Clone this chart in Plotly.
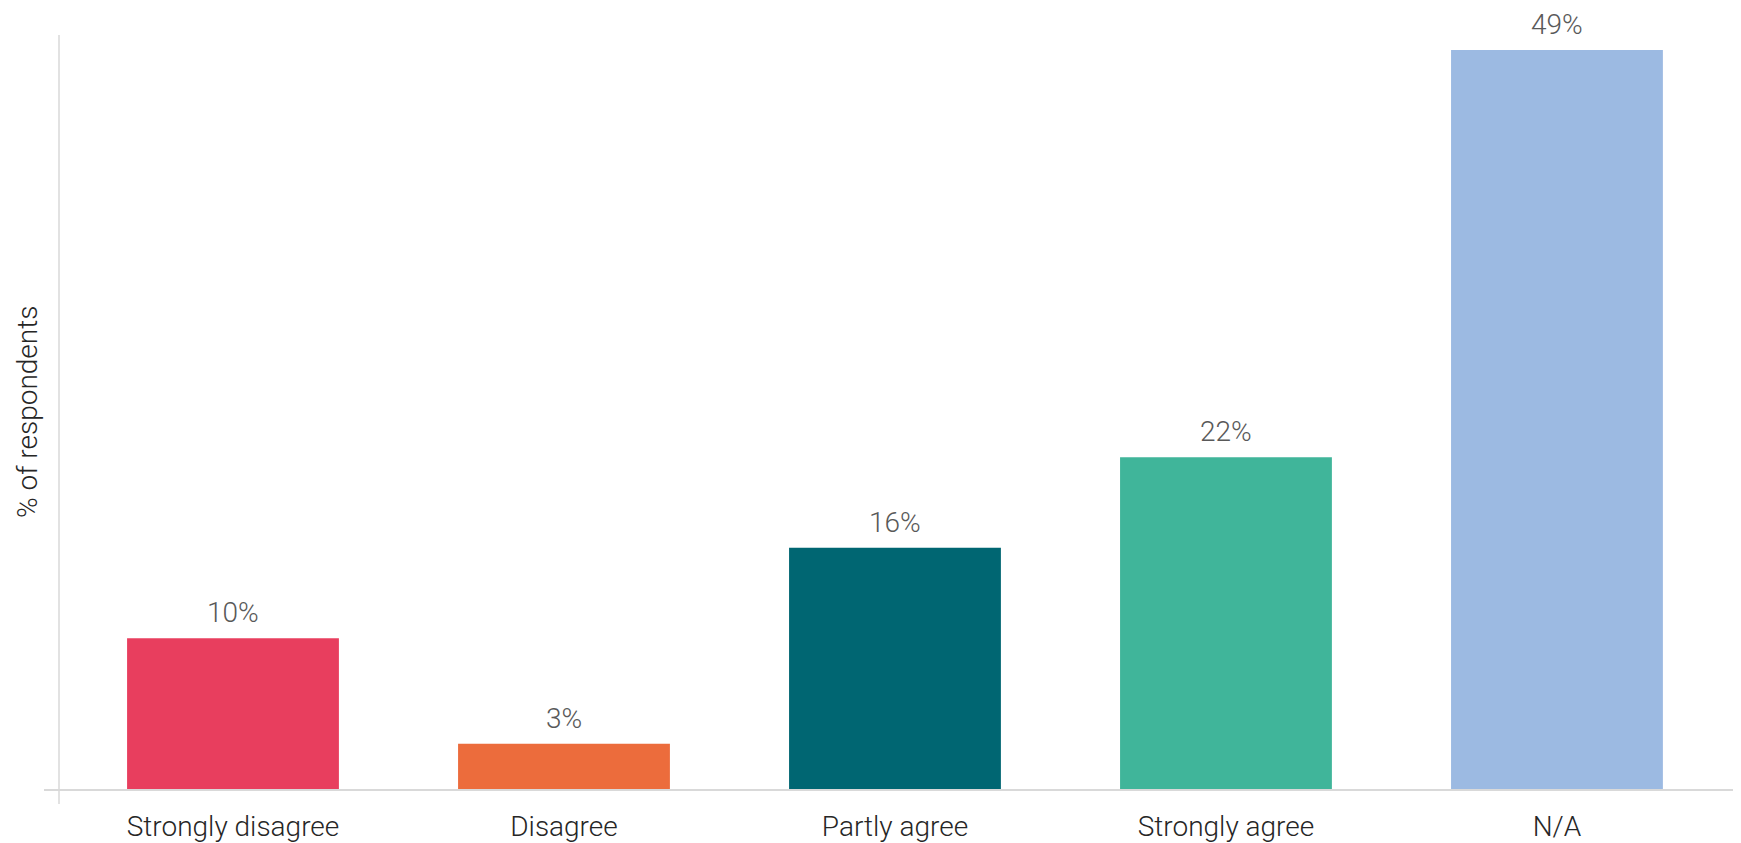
import plotly.graph_objects as go

categories = ["Strongly disagree", "Disagree", "Partly agree", "Strongly agree", "N/A"]
values = [10, 3, 16, 22, 49]
labels = ["10%", "3%", "16%", "22%", "49%"]
colors = ["#E83E5E", "#EC6C3C", "#006672", "#40B59A", "#9CBAE2"]

FONT = "Roboto"
# the page body has an 8px margin, so the figure is offset by 8px
W, H = 1733, 835
L, R, T, B = 36, 0, 27, 52
PW, PH = W - L - R, H - T - B

fig = go.Figure(go.Bar(
    x=categories,
    y=values,
    marker=dict(color=colors, line=dict(width=0)),
    width=0.64,
    hoverinfo="x+y",
))

# data labels above each bar
for cat, val, lab in zip(categories, values, labels):
    fig.add_annotation(
        x=cat, y=val, text=lab, showarrow=False,
        yanchor="bottom", yshift=8, borderpad=0,
        font=dict(family=FONT, size=28, color="#595959", weight=300),
    )

# y axis line (Excel-style, crossing below the x axis)
fig.add_shape(
    type="line", xref="paper", yref="paper",
    x0=15 / PW, x1=15 / PW, y0=-15 / PH, y1=1,
    line=dict(color="#d9d9d9", width=1.5),
)

fig.add_annotation(
    xref="paper", yref="paper", x=-17 / PW, y=0.5,
    text="% of respondents", textangle=-90, showarrow=False,
    xanchor="center", yanchor="middle",
    font=dict(family=FONT, size=28, color="#262626", weight=300),
)

fig.update_layout(
    width=W, height=H,
    margin=dict(l=L, r=R, t=T, b=B),
    paper_bgcolor="white",
    plot_bgcolor="white",
    showlegend=False,
    xaxis=dict(
        range=[-0.571, 4.556],
        showline=True, linecolor="#d9d9d9", linewidth=1.5,
        showgrid=False, zeroline=False, ticks="",
        tickfont=dict(family=FONT, size=28, color="#262626", weight=300),
        ticklabelstandoff=12,
    ),
    yaxis=dict(
        range=[0, 50],
        showgrid=False, zeroline=False, showline=False,
        showticklabels=False, ticks="",
    ),
)

fig.write_html("out.html")
